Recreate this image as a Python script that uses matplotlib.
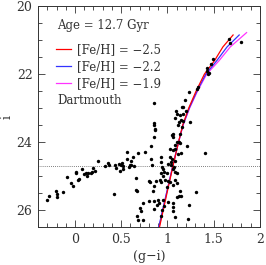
import matplotlib
matplotlib.use("Agg")
import matplotlib.pyplot as plt
from matplotlib.ticker import MultipleLocator

# observed stars: (g-i) colour and i magnitude
gi = [-0.299, -0.284, -0.202, -0.198, -0.195, -0.133, -0.083, -0.046, -0.022, 0.008,
      0.011, 0.032, 0.043, 0.072, 0.094, 0.116, 0.133, 0.141, 0.176, 0.184,
      0.195, 0.219, 0.245, 0.328, 0.360, 0.368, 0.429, 0.443, 0.472, 0.483,
      0.494, 0.508, 0.522, 0.519, 0.559, 0.565, 0.581, 0.591, 0.602, 0.627,
      0.602, 0.638, 0.656, 0.681, 0.754, 0.825, 0.854, 0.818, 0.832, 0.862,
      0.422, 0.659, 0.667, 0.735, 0.703, 0.710, 0.667, 0.681, 0.738, 0.803,
      0.854, 0.854, 0.797, 0.811, 0.876, 0.854, 0.846, 0.922, 0.933, 0.941,
      0.933, 0.897, 0.890, 0.933,
      1.049, 1.056, 1.099, 1.121, 1.135, 1.078, 1.056, 1.084, 1.027, 1.214,
      1.114, 1.149, 1.402, 0.926, 1.027, 1.049, 1.041, 1.078, 1.005, 1.035,
      1.070, 1.056, 0.948, 0.962, 0.991, 1.078, 1.106, 0.955, 0.976, 1.005,
      0.926, 1.027, 1.078, 1.099, 0.998, 1.063, 1.135, 1.121, 1.099, 1.143,
      1.305, 0.948, 1.005, 1.056, 0.962, 1.056, 1.063, 1.236, 1.084, 1.222,
      0.911, 0.941,
      0.854, 0.854, 0.854, 0.865, 1.333, 1.316, 1.236, 1.200, 1.192, 1.157,
      1.171, 1.092, 1.106, 1.171, 1.135, 1.084, 1.143, 1.127, 1.171, 1.243,
      1.114, 1.157, 1.063, 1.135,
      1.665, 1.679, 1.791, 1.495, 1.474, 1.430, 1.430, 1.445, 1.438]
imag = [25.69, 25.58, 25.43, 25.53, 25.60, 25.47, 25.04, 25.20, 25.29, 24.89,
        24.92, 25.12, 25.08, 24.79, 24.94, 24.92, 25.00, 24.90, 24.92, 24.87,
        24.77, 24.86, 24.57, 24.71, 24.61, 24.66, 24.68, 24.76, 24.63, 24.85,
        24.66, 24.62, 24.71, 24.80, 24.49, 24.29, 24.73, 24.66, 24.57, 24.45,
        24.68, 24.71, 25.05, 24.31, 24.29, 24.12, 23.86, 24.51, 24.67, 23.65,
        25.53, 25.41, 25.45, 25.79, 25.95, 26.03, 26.18, 26.29, 26.29, 25.73,
        25.74, 25.98, 25.14, 25.16, 25.14, 25.29, 25.43, 25.12, 24.92, 24.73,
        24.59, 25.71, 25.85, 26.18,
        23.79, 23.86, 23.99, 24.00, 24.04, 24.09, 24.24, 24.19, 24.21, 24.10,
        24.35, 24.31, 24.33, 24.43, 24.43, 24.51, 24.58, 24.55, 24.63, 24.68,
        24.73, 24.80, 24.80, 24.88, 24.90, 24.87, 24.90, 25.00, 25.10, 25.14,
        25.17, 25.17, 25.12, 25.20, 25.31, 25.26, 25.43, 25.59, 25.61, 25.59,
        25.48, 25.69, 25.76, 25.79, 25.88, 25.92, 26.02, 25.84, 26.21, 26.26,
        25.80, 26.00,
        22.86, 23.43, 23.51, 23.61, 22.37, 22.45, 22.54, 23.08, 22.76, 22.96,
        22.96, 23.08, 23.16, 23.16, 23.21, 23.30, 23.35, 23.41, 23.39, 23.41,
        23.51, 23.55, 23.76, 23.76,
        20.98, 21.10, 21.07, 21.57, 21.69, 21.83, 21.90, 21.96, 22.00]

# Dartmouth isochrones, 12.7 Gyr
iso_i = [26.8, 25.5, 24.7, 24.0, 23.5, 23.0, 22.5, 22.0, 21.6, 21.2]
iso_gi_25 = [0.89, 0.995, 1.06, 1.12, 1.165, 1.23, 1.31, 1.40, 1.51, 1.60]
iso_gi_22 = [0.88, 0.99, 1.058, 1.12, 1.168, 1.236, 1.32, 1.415, 1.535, 1.645]
iso_gi_19 = [0.885, 0.99, 1.058, 1.12, 1.17, 1.24, 1.325, 1.425, 1.56, 1.68]
tip_25 = (1.71, 20.85)
tip_22 = (1.776, 20.85)
tip_19 = (1.856, 20.78)

feh_labels = ['[Fe/H] = \u22122.5', '[Fe/H] = \u22122.2', '[Fe/H] = \u22121.9']
colors = ['#ff0000', '#3333ff', '#ff33ff']
hb_level = 24.7

plt.rcParams['font.family'] = ['DejaVu Serif']

fig = plt.figure(figsize=(2.66, 2.65), dpi=100)
ax = fig.add_axes([0.143, 0.143, 0.834, 0.834])

isos = [(iso_gi_25, tip_25), (iso_gi_22, tip_22), (iso_gi_19, tip_19)]
zs = [2.3, 2.2, 2.1]
for (g, tip), c, lab, z in zip(isos, colors, feh_labels, zs):
    ax.plot(list(g) + [tip[0]], iso_i + [tip[1]], color=c, lw=0.9, label=lab,
            zorder=z)

ax.scatter(gi, imag, s=6, color='black', lw=0, zorder=3)
ax.axhline(hb_level, color='#555555', lw=0.6, ls=(0, (1, 1.5)))

ax.set_xlim(-0.4, 2.0)
ax.set_ylim(26.5, 20.0)
ax.xaxis.set_major_locator(MultipleLocator(0.5))
ax.xaxis.set_minor_locator(MultipleLocator(0.1))
ax.yaxis.set_major_locator(MultipleLocator(2))
ax.yaxis.set_minor_locator(MultipleLocator(0.5))
ax.xaxis.set_major_formatter(plt.FuncFormatter(lambda v, p: '%g' % v))
ax.tick_params(which='both', direction='in', top=True, right=True, labelsize=9,
               width=0.6, color='#333333', labelcolor='#333333', pad=4)
ax.tick_params(which='major', length=5)
ax.tick_params(which='minor', length=3)
for s in ax.spines.values():
    s.set_linewidth(0.7)
    s.set_color('#333333')

ax.set_xlabel('(g\u2212i)', fontsize=9, color='#333333', labelpad=3)
ax.set_ylabel('i', fontsize=9, color='#333333', labelpad=2)

ax.text(0.086, 0.91, 'Age = 12.7 Gyr', transform=ax.transAxes, fontsize=8.5,
        color='#333333', va='center')
leg = ax.legend(loc='upper left', bbox_to_anchor=(0.06, 0.855), frameon=False,
                fontsize=8.5, handlelength=1.3, handletextpad=0.45,
                labelspacing=0.35, borderaxespad=0)
for t in leg.get_texts():
    t.set_color('#333333')
ax.text(0.086, 0.575, 'Dartmouth', transform=ax.transAxes, fontsize=8.5,
        color='#333333', va='center')

fig.savefig('out.png', dpi=100)
